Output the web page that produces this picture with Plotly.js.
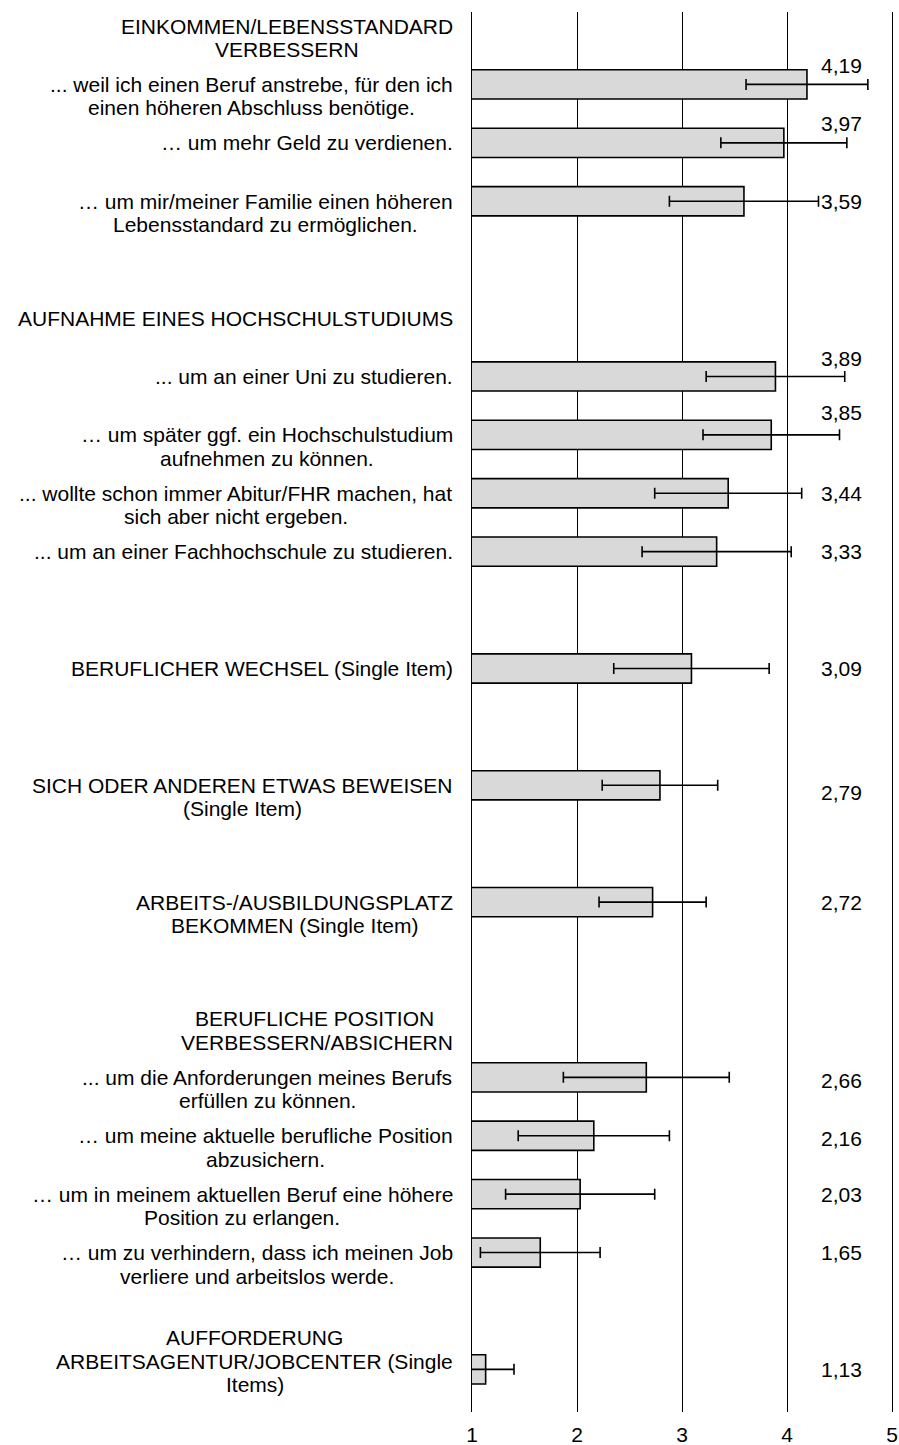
<!DOCTYPE html>
<html>
<head>
<meta charset="utf-8">
<script src="https://cdn.plot.ly/plotly-3.0.1.min.js"></script>
<style>html,body{margin:0;padding:0;background:#fff}</style>
</head>
<body>
<div id="chart" style="width:899px;height:1445px"></div>
<script>
// ---- data ----
const rowLabels = [
  "EINKOMMEN/LEBENSSTANDARD<br>VERBESSERN",
  "... weil ich einen Beruf anstrebe, für den ich<br>einen höheren Abschluss benötige.",
  "… um mehr Geld zu verdienen.",
  "… um mir/meiner Familie einen höheren<br>Lebensstandard zu ermöglichen.",
  "",
  "AUFNAHME EINES HOCHSCHULSTUDIUMS",
  "... um an einer Uni zu studieren.",
  "… um später ggf. ein Hochschulstudium<br>aufnehmen zu können.",
  "... wollte schon immer Abitur/FHR machen, hat<br>sich aber nicht ergeben.",
  "... um an einer Fachhochschule zu studieren.",
  "",
  "BERUFLICHER WECHSEL (Single Item)",
  "",
  "SICH ODER ANDEREN ETWAS BEWEISEN<br>(Single Item)",
  "",
  "ARBEITS-/AUSBILDUNGSPLATZ<br>BEKOMMEN (Single Item)",
  "",
  "BERUFLICHE POSITION <br>VERBESSERN/ABSICHERN",
  "... um die Anforderungen meines Berufs<br>erfüllen zu können.",
  "… um meine aktuelle berufliche Position<br>abzusichern.",
  "… um in meinem aktuellen Beruf eine höhere<br>Position zu erlangen.",
  "… um zu verhindern, dass ich meinen Job<br>verliere und arbeitslos werde.",
  "",
  "AUFFORDERUNG<br>ARBEITSAGENTUR/JOBCENTER (Single<br>Items)"
];
const means = [null, 4.19, 3.97, 3.59, null, null, 3.89, 3.85, 3.44, 3.33, null, 3.09, null, 2.79, null, 2.72, null, null, 2.66, 2.16, 2.03, 1.65, null, 1.13];
const sds   = [null, 0.58, 0.60, 0.71, null, null, 0.66, 0.65, 0.70, 0.71, null, 0.74, null, 0.55, null, 0.51, null, null, 0.79, 0.72, 0.71, 0.57, null, 0.27];
const xTicks = [1, 2, 3, 4, 5];
const xTickText = ["1", "2", "3", "4", "5"];

// ---- styling (not data) ----
const valueLabelLift = [0, 18.5, 19, 0, 0, 0, 17.5, 22, 0, 0, 0, 0, 0, -7.5, 0, 0, 0, 0, -3, -3, 0, 0, 0, 0];
const FONT = "Liberation Sans, Arial, sans-serif";
const FS = 21;
const LS = 23.5;            // line spacing of the category labels (px)
const LABEL_GAP = 19;       // gap between label block and axis (px)

const rowIdx = rowLabels.map((_, i) => i);

const ctx = document.createElement("canvas").getContext("2d");
ctx.font = FS + "px 'Liberation Sans', Arial, sans-serif";

const trace = {
  type: "bar",
  orientation: "h",
  x: means,
  y: rowIdx,
  width: 0.5,
  marker: {color: "#d9d9d9", line: {color: "#000", width: 1.6}},
  error_x: {type: "data", array: sds, visible: true, color: "#000", thickness: 1.6, width: 5.5},
  hoverinfo: "x"
};

const annotations = [];
rowLabels.forEach((lab, i) => {
  if (!lab) return;
  const lines = lab.split("<br>");
  const widths = lines.map(l => ctx.measureText(l.replace(/\s+$/, "")).width);
  const maxW = Math.max(...widths);
  const n = lines.length;
  lines.forEach((line, k) => {
    // first line on the bar centre; 3-line blocks centred slightly above
    const down = n < 3 ? k * LS : (k - (n - 1) / 2) * LS - 8;
    annotations.push({
      xref: "x", yref: "y", x: 1, y: i,
      text: line, showarrow: false,
      xanchor: "center", xshift: -LABEL_GAP - maxW / 2,
      yanchor: "middle", yshift: -down,
      font: {family: FONT, size: FS, color: "#000"}
    });
  });
});
means.forEach((v, i) => {
  if (v === null) return;
  annotations.push({
    xref: "x", yref: "y", x: 4.52, y: i,
    text: v.toFixed(2).replace(".", ","),
    showarrow: false, xanchor: "center", yanchor: "middle",
    yshift: valueLabelLift[i],
    font: {family: FONT, size: FS, color: "#000"}
  });
});

const layout = {
  width: 899, height: 1445,
  margin: {l: 472, r: 7, t: 12, b: 33, pad: 0},
  paper_bgcolor: "#fff", plot_bgcolor: "#fff",
  showlegend: false,
  font: {family: FONT, size: FS, color: "#000"},
  xaxis: {
    range: [1, 5], tickvals: xTicks, ticktext: xTickText,
    showgrid: true, gridcolor: "#000", gridwidth: 1,
    zeroline: false, showline: false, ticks: "",
    ticklabelstandoff: 8,
    tickfont: {family: FONT, size: FS, color: "#000"}
  },
  yaxis: {
    range: [23.73, -0.24],
    showticklabels: false, showgrid: false, zeroline: false,
    showline: true, linecolor: "#000", linewidth: 1, mirror: true, ticks: ""
  },
  annotations: annotations
};

Plotly.newPlot("chart", [trace], layout, {staticPlot: true, displayModeBar: false});
</script>
</body>
</html>
